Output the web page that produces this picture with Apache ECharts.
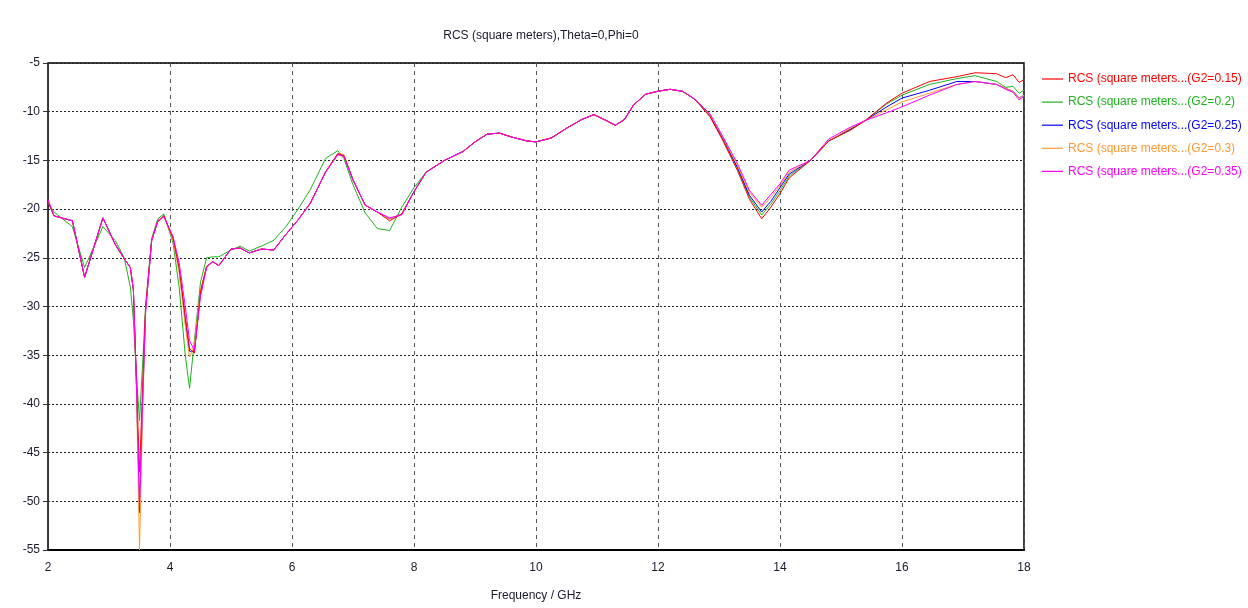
<!DOCTYPE html>
<html>
<head>
<meta charset="utf-8">
<script src="https://cdn.jsdelivr.net/npm/echarts@6/dist/echarts.min.js"></script>
<style>html,body{margin:0;padding:0;background:#fff}#c{width:1248px;height:608px}</style>
</head>
<body>
<div id="c"></div>
<script>
const freqs = [2.0,2.1,2.4,2.6,2.9,3.1,3.25,3.35,3.4,3.45,3.5,3.55,3.6,3.7,3.8,3.9,4.05,4.15,4.25,4.32,4.4,4.5,4.6,4.7,4.8,5.0,5.15,5.3,5.5,5.7,5.9,6.1,6.3,6.55,6.75,6.85,7.0,7.2,7.4,7.6,7.8,8.0,8.2,8.5,8.8,9.0,9.2,9.4,9.6,9.85,10.0,10.25,10.5,10.75,10.95,11.15,11.3,11.45,11.6,11.8,12.0,12.2,12.4,12.6,12.85,13.05,13.3,13.5,13.7,13.85,14.0,14.15,14.5,14.8,15.15,15.4,15.75,16.0,16.45,16.9,17.2,17.55,17.7,17.82,17.92,18.0];

const g015 = [-19.2,-20.7,-21.2,-27.0,-20.9,-23.6,-25.1,-26.0,-28.3,-37.5,-47.0,-38.5,-30.0,-23.2,-21.3,-20.7,-23.0,-26.0,-31.0,-34.3,-34.8,-28.5,-25.9,-25.4,-25.8,-24.1,-24.0,-24.5,-24.1,-24.2,-22.6,-21.1,-19.4,-16.2,-14.3,-14.5,-17.0,-19.6,-20.3,-21.2,-20.5,-18.2,-16.2,-15.0,-14.1,-13.1,-12.3,-12.2,-12.6,-13.0,-13.1,-12.7,-11.7,-10.8,-10.3,-10.9,-11.4,-10.8,-9.3,-8.2,-7.9,-7.7,-7.9,-8.7,-10.5,-12.8,-16.0,-19.0,-21.0,-19.8,-18.4,-16.8,-15.0,-13.0,-11.9,-10.9,-9.1,-8.1,-6.9,-6.4,-6.0,-6.1,-6.5,-6.2,-7.0,-6.7];
const g020 = [-19.4,-20.3,-21.8,-26.0,-21.8,-23.2,-25.0,-28.0,-31.4,-37.0,-41.7,-36.0,-30.0,-23.0,-21.0,-20.5,-23.5,-28.0,-35.0,-38.4,-33.5,-27.5,-25.0,-24.9,-24.9,-24.2,-23.8,-24.3,-23.8,-23.2,-21.8,-20.0,-18.0,-14.8,-14.0,-14.8,-17.5,-20.4,-22.0,-22.2,-19.8,-17.8,-16.2,-15.0,-14.1,-13.1,-12.3,-12.2,-12.6,-13.0,-13.1,-12.7,-11.7,-10.8,-10.3,-10.9,-11.4,-10.8,-9.3,-8.2,-7.9,-7.7,-7.9,-8.7,-10.4,-12.7,-15.8,-18.8,-20.6,-19.5,-18.1,-16.6,-15.0,-13.0,-11.9,-10.9,-9.2,-8.3,-7.2,-6.6,-6.3,-6.9,-7.5,-7.4,-8.1,-7.8];
const g025 = [-19.3,-20.7,-21.2,-27.0,-20.9,-23.6,-25.1,-26.0,-28.3,-38.0,-51.2,-40.0,-30.5,-23.2,-21.2,-20.7,-23.0,-26.2,-31.5,-34.6,-34.6,-28.5,-25.9,-25.4,-25.8,-24.1,-24.0,-24.5,-24.1,-24.2,-22.6,-21.1,-19.4,-16.2,-14.4,-14.5,-17.0,-19.6,-20.3,-21.0,-20.5,-18.2,-16.2,-15.0,-14.1,-13.1,-12.3,-12.2,-12.6,-13.0,-13.1,-12.7,-11.7,-10.8,-10.3,-10.9,-11.4,-10.8,-9.3,-8.2,-7.9,-7.7,-7.9,-8.7,-10.4,-12.6,-15.7,-18.6,-20.3,-19.2,-17.8,-16.4,-15.0,-13.0,-11.8,-10.9,-9.5,-8.6,-7.8,-6.9,-6.9,-7.2,-7.6,-7.9,-8.6,-8.3];
const g030 = [-19.2,-20.7,-21.2,-27.0,-20.9,-23.6,-25.1,-26.0,-28.3,-38.5,-55.0,-41.0,-30.5,-23.2,-21.2,-20.7,-23.2,-26.5,-32.0,-35.2,-34.0,-28.3,-25.9,-25.4,-25.8,-24.1,-24.0,-24.5,-24.1,-24.2,-22.6,-21.1,-19.4,-16.2,-14.3,-14.4,-17.0,-19.6,-20.3,-21.0,-20.5,-18.2,-16.2,-15.0,-14.1,-13.1,-12.3,-12.2,-12.6,-13.0,-13.1,-12.7,-11.7,-10.8,-10.3,-10.9,-11.4,-10.8,-9.3,-8.2,-7.9,-7.7,-7.9,-8.7,-10.3,-12.5,-15.5,-18.3,-19.8,-18.8,-17.6,-16.2,-15.0,-13.0,-11.7,-10.9,-9.8,-9.0,-8.1,-7.2,-6.9,-7.2,-7.6,-7.9,-8.6,-8.3];
const g035 = [-19.0,-20.7,-21.2,-27.0,-20.9,-23.6,-25.1,-26.0,-28.3,-38.0,-50.5,-40.0,-30.5,-23.2,-21.2,-20.8,-22.8,-25.5,-30.0,-33.5,-34.5,-29.0,-26.0,-25.4,-25.8,-24.1,-24.0,-24.5,-24.1,-24.2,-22.6,-21.1,-19.4,-16.2,-14.4,-14.6,-17.0,-19.6,-20.3,-20.9,-20.6,-18.2,-16.2,-15.0,-14.1,-13.1,-12.3,-12.2,-12.6,-13.0,-13.1,-12.7,-11.7,-10.8,-10.3,-10.9,-11.4,-10.8,-9.3,-8.2,-7.9,-7.7,-7.9,-8.7,-10.2,-12.4,-15.3,-18.1,-19.6,-18.5,-17.4,-16.0,-15.0,-12.8,-11.6,-10.9,-10.1,-9.5,-8.3,-7.2,-6.9,-7.2,-7.7,-8.0,-8.8,-8.4];

const names = ['RCS (square meters...(G2=0.15)','RCS (square meters...(G2=0.2)','RCS (square meters...(G2=0.25)','RCS (square meters...(G2=0.3)','RCS (square meters...(G2=0.35)'];
const colors = ['#ff0000','#1db31d','#0000ff','#ff9933','#ff00ff'];
const allData = [g015,g020,g025,g030,g035];

const FONT = 'Liberation Sans';
const chart = echarts.init(document.getElementById('c'), null, {renderer:'canvas'});
chart.setOption({
  animation:false,
  backgroundColor:'#fff',
  title:{text:'RCS (square meters),Theta=0,Phi=0',left:536,textAlign:'center',top:25,
    textStyle:{fontFamily:FONT,fontSize:12,fontWeight:'normal',color:'#1a1a2e'}},
  legend:{orient:'vertical',left:1037,top:68,icon:'rect',itemWidth:21,itemHeight:1.2,itemGap:11.1,
    textStyle:{fontFamily:FONT,fontSize:12,padding:[0,0,0,0]},
    data:names.map((n,i)=>({name:n,textStyle:{color:colors[i]}}))},
  grid:{left:48,right:224,top:63,bottom:58,show:true,borderColor:'#000',borderWidth:1.5,containLabel:false},
  xAxis:{type:'value',min:2,max:18,interval:2,
    name:'Frequency / GHz',nameLocation:'middle',nameGap:40,
    nameTextStyle:{fontFamily:FONT,fontSize:12,color:'#1a1a2e'},
    axisLine:{onZero:false,lineStyle:{color:'#000',width:2}},
    axisTick:{show:false},
    axisLabel:{fontFamily:FONT,fontSize:12,color:'#1a1a2e',margin:12},
    splitLine:{show:true,lineStyle:{color:'#555',type:[4,4],width:1}}},
  yAxis:{type:'value',min:-55,max:-5,interval:5,
    axisLine:{show:true,onZero:false,lineStyle:{color:'#333',width:1}},
    axisTick:{show:true,length:5,lineStyle:{color:'#333'}},
    axisLabel:{fontFamily:FONT,fontSize:12,color:'#1a1a2e',margin:8},
    splitLine:{show:true,lineStyle:{color:'#222',type:[2,2],width:1}}},
  series:allData.map((arr,i)=>({
    name:names[i],type:'line',symbol:'none',
    data:freqs.map((f,j)=>[f,arr[j]]),
    lineStyle:{color:colors[i],width:1},itemStyle:{color:colors[i]},
    z: i===4?5:(i===0?4:3)
  }))
});
</script>
</body>
</html>
